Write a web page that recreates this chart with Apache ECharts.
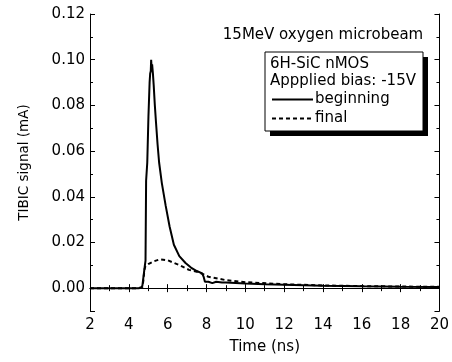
<!DOCTYPE html>
<html>
<head>
<meta charset="utf-8">
<script src="https://cdn.jsdelivr.net/npm/echarts@6/dist/echarts.min.js"></script>
<style>html,body{margin:0;padding:0;background:#fff}#c{width:452px;height:362px}</style>
</head>
<body>
<div id="c"></div>
<script>
var xTicks = [2, 4, 6, 8, 10, 12, 14, 16, 18, 20];
var yTicks = [0.00, 0.02, 0.04, 0.06, 0.08, 0.10, 0.12];
var yMin = -0.01;

var beginT = [2, 3, 4, 4.5, 4.65, 4.7, 4.74, 4.78, 4.82, 4.86, 4.89, 4.95, 5.01, 5.07, 5.1, 5.13, 5.15, 5.17, 5.2, 5.24, 5.28, 5.34, 5.4, 5.48, 5.56, 5.7, 5.9, 6.1, 6.32, 6.6, 6.92, 7.2, 7.5, 7.78, 7.86, 7.92, 8.1, 8.3, 8.5, 8.8, 9, 10, 11, 12, 14, 16, 18, 20];
var beginV = [0, 0, 0, 0, 0.0002, 0.0012, 0.0004, 0.002, 0.0095, 0.012, 0.047, 0.055, 0.075, 0.09, 0.094, 0.095, 0.1, 0.097, 0.098, 0.094, 0.089, 0.08, 0.0725, 0.063, 0.055, 0.046, 0.036, 0.027, 0.019, 0.014, 0.011, 0.009, 0.0075, 0.0065, 0.0048, 0.0028, 0.0028, 0.0022, 0.0028, 0.0025, 0.0025, 0.002, 0.0017, 0.0015, 0.0011, 0.0008, 0.0006, 0.0005];

var finalT = [2, 3, 4, 4.5, 4.7, 4.76, 4.8, 4.85, 5.0, 5.3, 5.6, 6.0, 6.6, 7.1, 7.6, 8.1, 9, 10, 12, 14, 16, 18, 20];
var finalV = [0, 0, 0, 0, 0.0005, 0.004, 0.008, 0.0095, 0.0105, 0.0118, 0.0126, 0.0122, 0.0101, 0.008, 0.0070, 0.005, 0.0035, 0.0026, 0.0017, 0.0012, 0.0009, 0.0007, 0.0006];

function pairs(t, v) { return t.map(function (x, i) { return [x, v[i]]; }); }

var FONT = '"DejaVu Sans", Verdana, sans-serif';
var FS = 15;
var chart = echarts.init(document.getElementById('c'), null, {renderer: 'canvas'});

var lineBlack = {color: '#000', width: 1};
var axisCommonX = {
  type: 'value', min: xTicks[0], max: xTicks[xTicks.length - 1], interval: 2,
  axisLine: {show: true, lineStyle: lineBlack},
  axisTick: {show: true, inside: true, length: 4, lineStyle: lineBlack},
  minorTick: {show: true, splitNumber: 2, length: 3, lineStyle: lineBlack},
  splitLine: {show: false}
};
var axisMajorY = {
  type: 'value', min: yMin, max: yTicks[yTicks.length - 1], minInterval: 0.02, maxInterval: 0.02,
  axisLine: {show: true, lineStyle: lineBlack},
  axisTick: {show: true, inside: true, length: 5, lineStyle: lineBlack},
  splitLine: {show: false}
};
var axisMinorY = {
  type: 'value', min: yMin, max: yTicks[yTicks.length - 1], interval: 0.02,
  axisLine: {show: false},
  axisTick: {show: true, inside: true, length: 3, lineStyle: lineBlack},
  axisLabel: {show: false},
  splitLine: {show: false}
};

chart.setOption({
  animation: false,
  backgroundColor: '#fff',
  grid: {left: 90, right: 9, top: 14, bottom: 51},
  xAxis: [
    Object.assign({}, axisCommonX, {
      position: 'bottom',
      name: 'Time (ns)', nameLocation: 'middle', nameGap: 29,
      nameTextStyle: {color: '#000', fontSize: FS, fontFamily: FONT},
      axisLabel: {color: '#000', fontSize: FS, fontFamily: FONT, margin: 7}
    }),
    Object.assign({}, axisCommonX, {position: 'top', axisLabel: {show: false}})
  ],
  yAxis: [
    Object.assign({}, axisMajorY, {
      position: 'left',
      name: 'TIBIC signal (mA)', nameLocation: 'middle', nameGap: 59,
      nameTextStyle: {color: '#000', fontSize: 13.5, fontFamily: FONT},
      axisLabel: {color: '#000', fontSize: FS, fontFamily: FONT, margin: 5,
        formatter: function (v) { return v < -1e-9 ? '' : v.toFixed(2); }}
    }),
    Object.assign({}, axisMajorY, {position: 'right', axisLabel: {show: false}}),
    Object.assign({}, axisMinorY, {position: 'left'}),
    Object.assign({}, axisMinorY, {position: 'right'})
  ],
  legend: {
    orient: 'vertical', left: 271, top: 92, padding: 0, itemGap: 4, itemWidth: 41, itemHeight: 14, z: 30,
    itemStyle: {color: 'transparent', borderColor: 'transparent', borderWidth: 0, opacity: 0},
    textStyle: {color: '#000', fontSize: FS, fontFamily: FONT, padding: [0, 0, 0, -3]},
    data: ['beginning', 'final']
  },
  graphic: [
    {type: 'rect', shape: {x: 270, y: 57, width: 158, height: 79}, style: {fill: '#000'}, z: 10},
    {type: 'rect', shape: {x: 265, y: 52, width: 158, height: 79}, style: {fill: '#fff', stroke: '#000', lineWidth: 1}, z: 11},
    {type: 'text', x: 270, y: 64, z: 12, style: {text: '6H-SiC nMOS', fill: '#000', fontSize: FS, fontFamily: FONT, verticalAlign: 'middle'}},
    {type: 'text', x: 270, y: 81, z: 12, style: {text: 'Appplied bias: -15V', fill: '#000', fontSize: FS, fontFamily: FONT, verticalAlign: 'middle'}},
    {type: 'text', x: 323, y: 35, z: 12, style: {text: '15MeV oxygen microbeam', fill: '#000', fontSize: FS, fontFamily: FONT, align: 'center', verticalAlign: 'middle'}}
  ],
  series: [
    {name: 'beginning', type: 'line', data: pairs(beginT, beginV), showSymbol: false, symbol: 'none',
      lineStyle: {color: '#000', width: 2}, itemStyle: {color: '#000'}, z: 5},
    {name: 'final', type: 'line', data: pairs(finalT, finalV), showSymbol: false, symbol: 'none',
      lineStyle: {color: '#000', width: 2, type: [4, 3]}, itemStyle: {color: '#000'}, z: 4}
  ]
});
</script>
</body>
</html>
